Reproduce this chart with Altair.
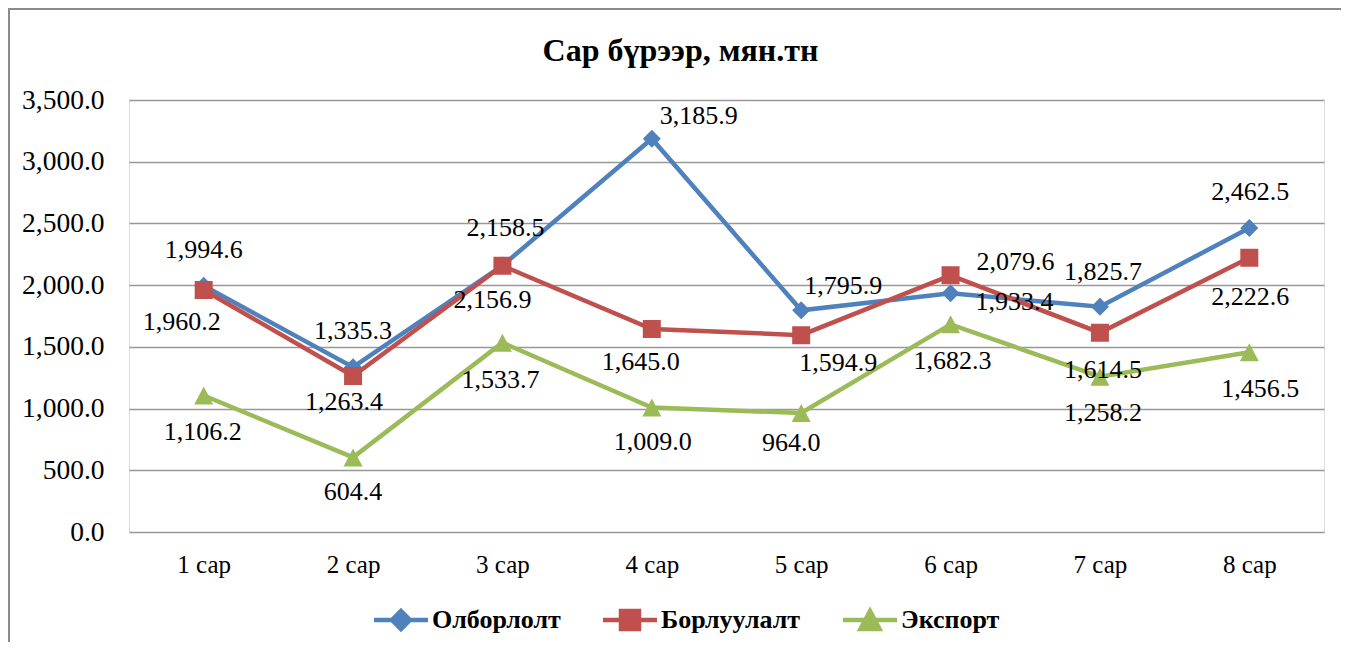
import altair as alt
import pandas as pd

months = ["1 сар", "2 сар", "3 сар", "4 сар", "5 сар", "6 сар", "7 сар", "8 сар"]
series_names = ["Олборлолт", "Борлуулалт", "Экспорт"]
olborlolt = [1994.6, 1335.3, 2158.5, 3185.9, 1795.9, 1933.4, 1825.7, 2462.5]
borluulalt = [1960.2, 1263.4, 2156.9, 1645.0, 1594.9, 2079.6, 1614.5, 2222.6]
eksport = [1106.2, 604.4, 1533.7, 1009.0, 964.0, 1682.3, 1258.2, 1456.5]

# label placement (pixel offsets of each data label from its marker)
label_dx = [
    [0, 0, 3, 47, 42, 64, 3, 1],
    [-22, -9, -10, -11, 37, 65, 3, 1],
    [-1, 0, -2, 1, -10, 2, 3, 11],
]
label_dy = [
    [-36, -36, -38, -23, -24, 9, -35, -36],
    [32, 26, 34, 33, 28, -13, 37, 39],
    [37, 35, 37, 35, 30, 37, 36, 37],
]

colors = ["#4F81BD", "#C0504D", "#9BBB59"]
marker_paths = [
    "M0,-0.9L0.9,0L0,0.9L-0.9,0Z",
    "M-0.9,-0.9H0.9V0.9H-0.9Z",
    "M0,-0.9L0.95,0.9H-0.95Z",
]
symbol_paths = ["M-2.7,0H2.7" + p for p in marker_paths]

FONT = "Liberation Serif"
W, H = 1195, 432
PAD = {"left": 121, "top": 92, "right": 17, "bottom": 110}

rows = []
for si, (name, vals) in enumerate(zip(series_names, [olborlolt, borluulalt, eksport])):
    for mi, (m, v) in enumerate(zip(months, vals)):
        rows.append({"series": name, "month": m, "value": v,
                     "ldx": label_dx[si][mi], "ldy": label_dy[si][mi]})
df = pd.DataFrame(rows)

x_enc = alt.X(
    "month:N", sort=months,
    scale=alt.Scale(type="point", padding=0.5),
    axis=alt.Axis(title=None, labelAngle=0, domain=False, ticks=False, tickSize=0,
                  labelPadding=20, labelFont=FONT, labelFontSize=25,
                  labelColor="black", grid=False),
)
y_enc = alt.Y(
    "value:Q",
    scale=alt.Scale(domain=[0, 3500]),
    axis=alt.Axis(title=None, values=list(range(0, 3501, 500)), format=",.1f",
                  domain=False, ticks=False, tickSize=0, labelPadding=25,
                  labelFont=FONT, labelFontSize=27.5, labelColor="black",
                  grid=True, gridColor="#989898", gridWidth=1.6),
)

legend = alt.Legend(
    title=None, orient="none", direction="horizontal", legendX=259, legendY=507,
    labelFont=FONT, labelFontSize=26, labelFontWeight="bold", labelColor="black",
    symbolSize=400, symbolStrokeWidth=4.5, labelOffset=18, columnPadding=33,
    padding=0, symbolOpacity=1,
)
shape_scale = alt.Scale(domain=series_names, range=symbol_paths)
col_scale = alt.Scale(domain=series_names, range=colors)

base = alt.Chart(df)

frame = alt.Chart(pd.DataFrame({"a": [0]})).mark_rect(
    fill=None, stroke="#8c8c8c", strokeWidth=2
).encode(
    x=alt.value(-120), y=alt.value(-91), x2=alt.value(W + 60), y2=alt.value(H + 140)
)

layers = [frame]
for i, name in enumerate(series_names):
    sub = base.transform_filter(alt.datum.series == name)
    layers.append(
        sub.mark_line(strokeWidth=4.5, color=colors[i]).encode(x=x_enc, y=y_enc)
    )
    layers.append(
        sub.mark_point(filled=True, size=400, strokeWidth=0, opacity=1).encode(
            x=x_enc, y=y_enc,
            fill=alt.Fill("series:N", scale=col_scale, legend=legend),
            stroke=alt.Stroke("series:N", scale=col_scale, legend=legend),
            shape=alt.Shape("series:N", scale=shape_scale, legend=legend),
        )
    )

labels = base.mark_text(
    font=FONT, fontSize=26, baseline="middle", align="center", color="black",
    dx=alt.ExprRef(expr="datum.ldx"), dy=alt.ExprRef(expr="datum.ldy"),
).encode(
    x=x_enc, y=y_enc,
    text=alt.Text("value:Q", format=",.1f"),
)
layers.append(labels)

chart = alt.layer(*layers).properties(
    width=W, height=H,
    autosize=alt.AutoSizeParams(type="none"),
    padding=PAD,
    title=alt.TitleParams(
        "Сар бүрээр, мян.тн", font=FONT, fontSize=32, fontWeight="bold",
        color="black", anchor="middle", dx=-46, offset=38, dy=123,
        baseline="alphabetic",
    ),
).configure_view(stroke=None).configure(background="white")

chart.save("out.html", embed_options={"renderer": "svg", "actions": False})
